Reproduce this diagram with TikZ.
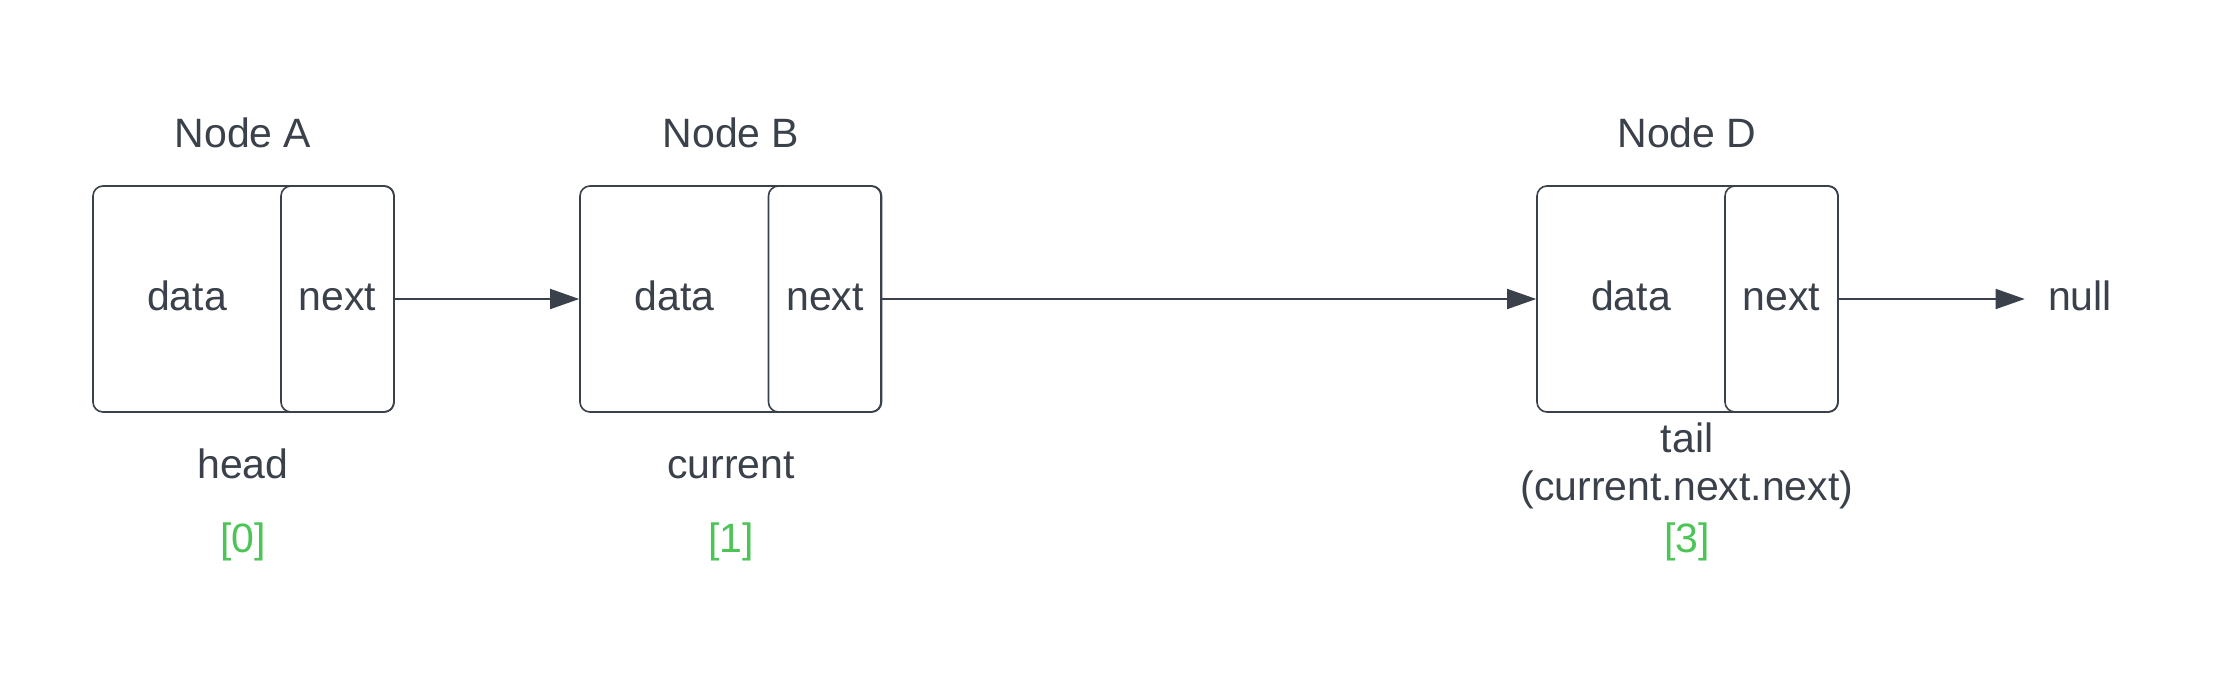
\documentclass[tikz,border=0pt]{standalone}
\usepackage{fontspec}
\setmainfont{Liberation Sans}
\usetikzlibrary{arrows.meta}
\definecolor{ink}{HTML}{3A414A}
\definecolor{idx}{HTML}{4CC456}
\begin{document}
\begin{tikzpicture}[x=0.5pt,y=-0.5pt,
  every node/.style={text=ink, font=\fontsize{20.5}{24}\selectfont},
  outerbox/.style={draw=ink, line width=0.8pt, rounded corners=5pt, minimum width=150.5pt, minimum height=113pt, inner sep=0pt},
  nextbox/.style={draw=ink, line width=0.8pt, rounded corners=5pt, minimum width=56.5pt, minimum height=113pt, inner sep=0pt},
  lbl/.style={anchor=base, inner sep=0pt},
  idxlbl/.style={anchor=base, inner sep=0pt, text=idx},
  link/.style={draw=ink, line width=0.8pt, -{Triangle[length=14.5pt,width=10pt]}}
]
\fill[white] (0,0) rectangle (2213,675);
\useasboundingbox (0,0) rectangle (2213,675);

% Node A
\node[outerbox] (A) at (243.5,299) {};
\node[nextbox] (Anext) at (337.5,299) {};
\node[lbl] (Adata) at (187,310) {data};
\node[lbl] (Anexttxt) at (337.5,310) {next};
\node[lbl] (Atitle) at (243,147) {Node A};
\node[lbl] (Ahead) at (243,478) {head};
\node[idxlbl] (Aidx) at (243,552) {[0]};

% Node B
\node[outerbox] (B) at (730.5,299) {};
\node[nextbox] (Bnext) at (825,299) {};
\node[lbl] (Bdata) at (674.5,310) {data};
\node[lbl] (Bnexttxt) at (825,310) {next};
\node[lbl] (Btitle) at (731,147) {Node B};
\node[lbl] (Bcur) at (731,478) {current};
\node[idxlbl] (Bidx) at (731,552) {[1]};

% Node D
\node[outerbox] (D) at (1687.5,299) {};
\node[nextbox] (Dnext) at (1781.5,299) {};
\node[lbl] (Ddata) at (1631,310) {data};
\node[lbl] (Dnexttxt) at (1781.5,310) {next};
\node[lbl] (Dtitle) at (1687,147) {Node D};
\node[lbl] (Dtail) at (1687,452) {tail};
\node[lbl] (Dexpr) at (1687,500) {(current.next.next)};
\node[idxlbl] (Didx) at (1687,552) {[3]};

% null
\node[lbl] (null) at (2080,310) {null};

% links
\draw[link] (Anext.east) -- (B.west);
\draw[link] (Bnext.east) -- (D.west);
\draw[link, shorten >=11.5pt] (Dnext.east) -- (Dnext.east -| null.west);
\end{tikzpicture}
\end{document}
